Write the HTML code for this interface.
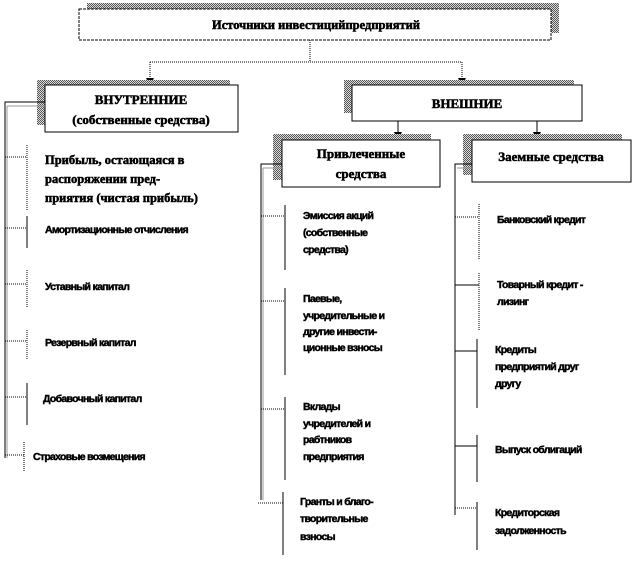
<!DOCTYPE html>
<html><head><meta charset="utf-8"><style>
html,body{margin:0;padding:0;background:#fff;}
svg{display:block;}
.s{font-family:"Liberation Serif",serif;font-weight:bold;font-size:13px;fill:#000;stroke:#000;stroke-width:0.5px;}
.n{font-family:"Liberation Sans",sans-serif;font-weight:bold;font-size:10.5px;letter-spacing:-0.7px;fill:#000;stroke:#000;stroke-width:0.45px;}
</style></head><body>
<svg width="634" height="561" viewBox="0 0 634 561" xmlns="http://www.w3.org/2000/svg">
<defs>
<pattern id="h" width="2" height="2" patternUnits="userSpaceOnUse"><rect width="2" height="2" fill="#ddd"/><rect width="1" height="1" fill="#555"/><rect x="1" y="1" width="1" height="1" fill="#555"/></pattern>
</defs>
<!-- title -->
<rect x="87" y="3" width="472" height="30" fill="url(#h)"/>
<rect x="79" y="9" width="472" height="31" fill="#fff" stroke="#000" stroke-dasharray="3,1"/>
<text x="316" y="29" class="s" text-anchor="middle" style="font-size:12.5px">Источники инвестицийпредприятий</text>
<!-- connector -->
<path d="M310,40 V62 M150,62 H462 M150,62 V80 M462,62 V80" stroke="#000" stroke-dasharray="1,1" fill="none"/>
<path d="M146,78 L154,78 L150,86z M458,78 L466,78 L462,86z" fill="#000"/>
<!-- internal -->
<rect x="37" y="80" width="193" height="45" fill="url(#h)"/>
<rect x="45" y="85" width="193" height="47" fill="#fff" stroke="#000"/>
<text x="141" y="104" class="s" text-anchor="middle">ВНУТРЕННИЕ</text>
<text x="141" y="124" class="s" text-anchor="middle">(собственные средства)</text>
<!-- external -->
<rect x="344" y="80" width="230" height="33" fill="url(#h)"/>
<rect x="352" y="85" width="230" height="36" fill="#fff" stroke="#000"/>
<text x="467" y="108" class="s" text-anchor="middle">ВНЕШНИЕ</text>
<path d="M398,121 V134 M537,121 V134" stroke="#000"/>
<path d="M394,132 L402,132 L398,140z M533,132 L541,132 L537,140z" fill="#000"/>
<!-- privlech -->
<rect x="273" y="134" width="158" height="46" fill="url(#h)"/>
<rect x="282" y="140" width="158" height="47" fill="#fff" stroke="#000"/>
<text x="361" y="158" class="s" text-anchor="middle">Привлеченные</text>
<text x="361" y="178" class="s" text-anchor="middle">средства</text>
<!-- zaemnye -->
<rect x="463" y="134" width="159" height="41" fill="url(#h)"/>
<rect x="472" y="140" width="159" height="42" fill="#fff" stroke="#000"/>
<text x="551" y="161" class="s" text-anchor="middle">Заемные средства</text>
<!-- left tree -->
<path d="M45,102 H5 V458" stroke="#000" fill="none"/>
<path d="M7,106 H45 M7,106 V458" stroke="#999" fill="none"/>
<g stroke="#000" stroke-dasharray="1,1">
<path d="M5,157 H27 M27,145 V210 M5,228 H27 M5,284 H27 M27,270 V307 M5,341 H27 M27,330 V360 M5,397 H27 M5,455 H24 M24,442 V472"/>
</g>
<path d="M27,216 V248 M27,383 V425" stroke="#000"/>
<text class="s" x="45" y="164" style="font-size:12.5px">Прибыль, остающаяся  в</text>
<text class="s" x="45" y="183" style="font-size:12.5px">распоряжении пред-</text>
<text class="s" x="45" y="202" style="font-size:12.5px">приятия (чистая прибыль)</text>
<text class="n" x="45" y="233">Амортизационные  отчисления</text>
<text class="n" x="45" y="290">Уставный капитал</text>
<text class="n" x="45" y="346">Резервный капитал</text>
<text class="n" x="43" y="402">Добавочный капитал</text>
<text class="n" x="33" y="460">Страховые возмещения</text>
<!-- middle tree -->
<path d="M282,164 H261 V500" stroke="#000" fill="none"/>
<path d="M263,168 H282 M263,168 V500" stroke="#999" fill="none"/>
<g stroke="#000" stroke-dasharray="1,1"><path d="M261,216 H285 M261,301 H285 M261,409 H285 M258,503 H283"/></g>
<path d="M285,205 V270 M285,288 V375 M285,397 V480 M283,492 V555" stroke="#000"/>
<g class="n">
<text x="303" y="219">Эмиссия акций</text><text x="303" y="236">(собственные</text><text x="303" y="253">средства)</text>
<text x="303" y="302">Паевые,</text><text x="303" y="319">учредительные и</text><text x="303" y="335">другие инвести-</text><text x="303" y="351">ционные взносы</text>
<text x="303" y="410">Вклады</text><text x="303" y="427">учредителей и</text><text x="303" y="443">рабтников</text><text x="303" y="460">предприятия</text>
<text x="300" y="505">Гранты и благо-</text><text x="300" y="522">творительные</text><text x="300" y="540">взносы</text>
</g>
<!-- right tree -->
<path d="M472,164 H455 V515" stroke="#000" fill="none"/>
<path d="M457,168 H472" stroke="#999"/>
<g stroke="#000" stroke-dasharray="1,1"><path d="M455,217 H479 M479,204 V260 M479,273 V330 M455,508 H477"/></g>
<path d="M455,285 H479 M455,351 H477 M477,339 V408 M455,446 H477 M477,435 V482 M477,502 V550" stroke="#000"/>
<g class="n">
<text x="497" y="223">Банковский кредит</text>
<text x="497" y="288">Товарный кредит -</text><text x="497" y="305">лизинг</text>
<text x="495" y="353">Кредиты</text><text x="495" y="370">предприятий друг</text><text x="495" y="387">другу</text>
<text x="495" y="453">Выпуск облигаций</text>
<text x="495" y="516">Кредиторская</text><text x="495" y="534">задолженность</text>
</g>
</svg>
</body></html>
